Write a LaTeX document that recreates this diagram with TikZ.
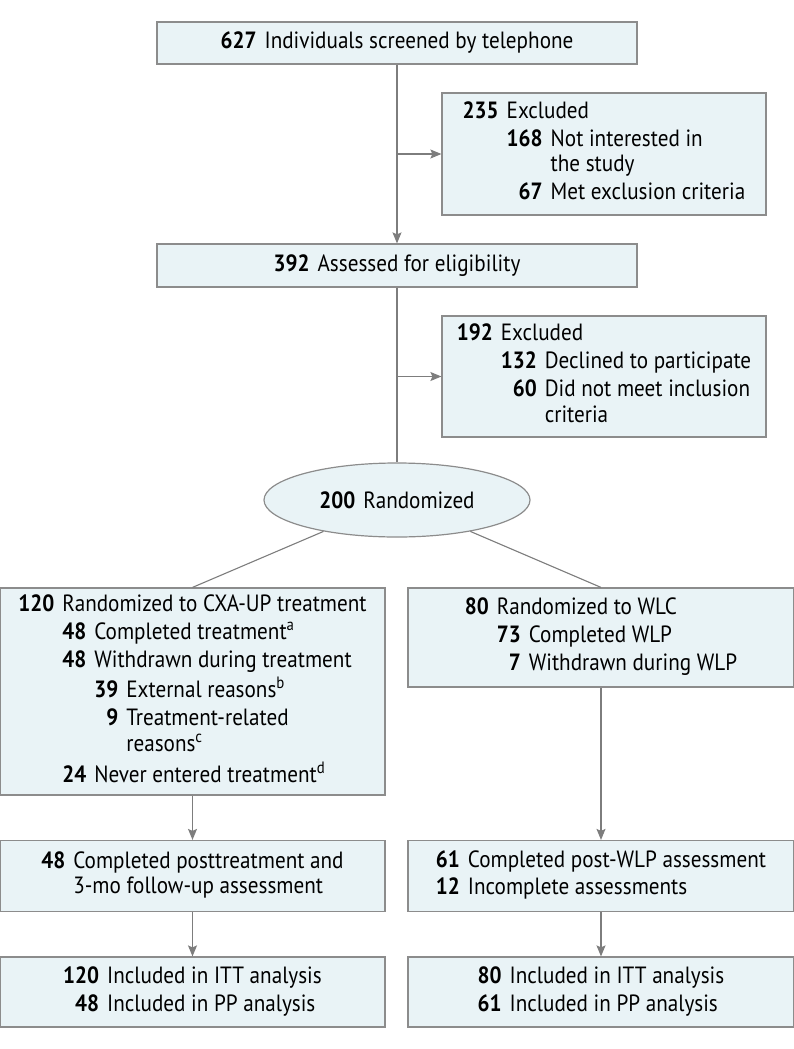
\documentclass[tikz,border=0pt]{standalone}
\usepackage{fontspec}
\setmainfont{PT Sans}[FakeStretch=0.9]
\usetikzlibrary{arrows.meta,shapes.geometric}
\definecolor{boxfill}{RGB}{233,243,246}
\definecolor{boxline}{RGB}{140,140,140}
\definecolor{linkgray}{RGB}{125,125,125}
\newcommand{\num}[1]{\textbf{#1}}
\begin{document}
\begin{tikzpicture}[x=1pt, y=-1pt,
    flowbox/.style={draw=boxline, fill=boxfill, line width=1.2pt, inner sep=0pt,
        rectangle, align=left, font=\fontsize{23.5}{25.5}\selectfont},
    randbox/.style={flowbox, ellipse},
    link/.style={draw=linkgray, line width=1.1pt},
    arr/.style={link, -{Stealth[length=11pt, width=9pt, inset=2pt]}}]
    \useasboundingbox (0,0) rectangle (794,1049);

    % Screening
    \node[flowbox, minimum width=480, minimum height=42] (screen) at (397,43)
        {\num{627}\hspace{8pt}Individuals screened by telephone};
    \node[flowbox, minimum width=324, minimum height=122] (excl1) at (604,154)
        {\begin{tabular}{@{}r@{\hspace{8pt}}r@{\hspace{8pt}}l@{}}
         \num{235} & \multicolumn{2}{@{}l@{}}{Excluded}\\[2.5pt]
          & \num{168} & Not interested in\\
          & & the study\\[2.5pt]
          & \num{67} & Met exclusion criteria
         \end{tabular}};

    % Eligibility
    \node[flowbox, minimum width=480, minimum height=43] (elig) at (397,265.5)
        {\num{392}\hspace{8pt}Assessed for eligibility};
    \node[flowbox, minimum width=324, minimum height=121] (excl2) at (604,376.5)
        {\begin{tabular}{@{}r@{\hspace{8pt}}r@{\hspace{8pt}}l@{}}
         \num{192} & \multicolumn{2}{@{}l@{}}{Excluded}\\[2.5pt]
          & \num{132} & Declined to participate\\[2.5pt]
          & \num{60} & Did not meet inclusion\\
          & & criteria
         \end{tabular}};

    % Randomization
    \node[randbox, minimum width=266, minimum height=74] (rand) at (397,500)
        {\num{200}\hspace{8pt}Randomized};

    % Allocation
    \node[flowbox, minimum width=385, minimum height=207] (cxa) at (192.5,691.5)
        {\begin{tabular}{@{}r@{\hspace{8pt}}r@{\hspace{8pt}}r@{\hspace{8pt}}l@{}}
         \num{120} & \multicolumn{3}{@{}l@{}}{Randomized to CXA-UP treatment}\\[2.5pt]
          & \num{48} & \multicolumn{2}{@{}l@{}}{Completed treatment\textsuperscript{a}}\\[2.5pt]
          & \num{48} & \multicolumn{2}{@{}l@{}}{Withdrawn during treatment}\\[2.5pt]
          & & \num{39} & External reasons\textsuperscript{b}\\[2.5pt]
          & & \num{9} & Treatment-related\\
          & & & reasons\textsuperscript{c}\\[2.5pt]
          & \num{24} & \multicolumn{2}{@{}l@{}}{Never entered treatment\textsuperscript{d}}
         \end{tabular}};
    \node[flowbox, minimum width=386, minimum height=99] (wlc) at (601,637.5)
        {\begin{tabular}{@{}r@{\hspace{8pt}}r@{\hspace{8pt}}l@{}}
         \num{80} & \multicolumn{2}{@{}l@{}}{Randomized to WLC}\\[2.5pt]
          & \num{73} & Completed WLP\\[2.5pt]
          & \num{7} & Withdrawn during WLP
         \end{tabular}};

    % Follow-up
    \node[flowbox, minimum width=385, minimum height=71] (post1) at (192.5,876)
        {\begin{tabular}{@{}r@{\hspace{8pt}}l@{}}
         \num{48} & Completed posttreatment and\\
          & 3-mo follow-up assessment
         \end{tabular}};
    \node[flowbox, minimum width=386, minimum height=71] (post2) at (601,876)
        {\begin{tabular}{@{}r@{\hspace{8pt}}l@{}}
         \num{61} & Completed post-WLP assessment\\[2pt]
         \num{12} & Incomplete assessments
         \end{tabular}};

    % Analysis
    \node[flowbox, minimum width=385, minimum height=70] (itt1) at (192.5,992)
        {\begin{tabular}{@{}r@{\hspace{8pt}}l@{}}
         \num{120} & Included in ITT analysis\\[2.5pt]
         \num{48} & Included in PP analysis
         \end{tabular}};
    \node[flowbox, minimum width=386, minimum height=70] (itt2) at (601,992)
        {\begin{tabular}{@{}r@{\hspace{8pt}}l@{}}
         \num{80} & Included in ITT analysis\\[2.5pt]
         \num{61} & Included in PP analysis
         \end{tabular}};

    % Connectors
    \coordinate (fork1) at (screen.south |- excl1.west);
    \coordinate (fork2) at (elig.south |- excl2.west);
    \draw[arr] (screen) -- (elig);
    \draw[arr] (fork1) -- (excl1);
    \draw[link] (elig) -- (rand);
    \draw[arr] (fork2) -- (excl2);

    \draw[link] (rand) -- (cxa.north);
    \draw[link] (rand) -- (wlc.north);

    \draw[arr] (cxa) -- (post1);
    \draw[arr] (wlc) -- (post2);
    \draw[arr] (post1) -- (itt1);
    \draw[arr] (post2) -- (itt2);
\end{tikzpicture}
\end{document}
